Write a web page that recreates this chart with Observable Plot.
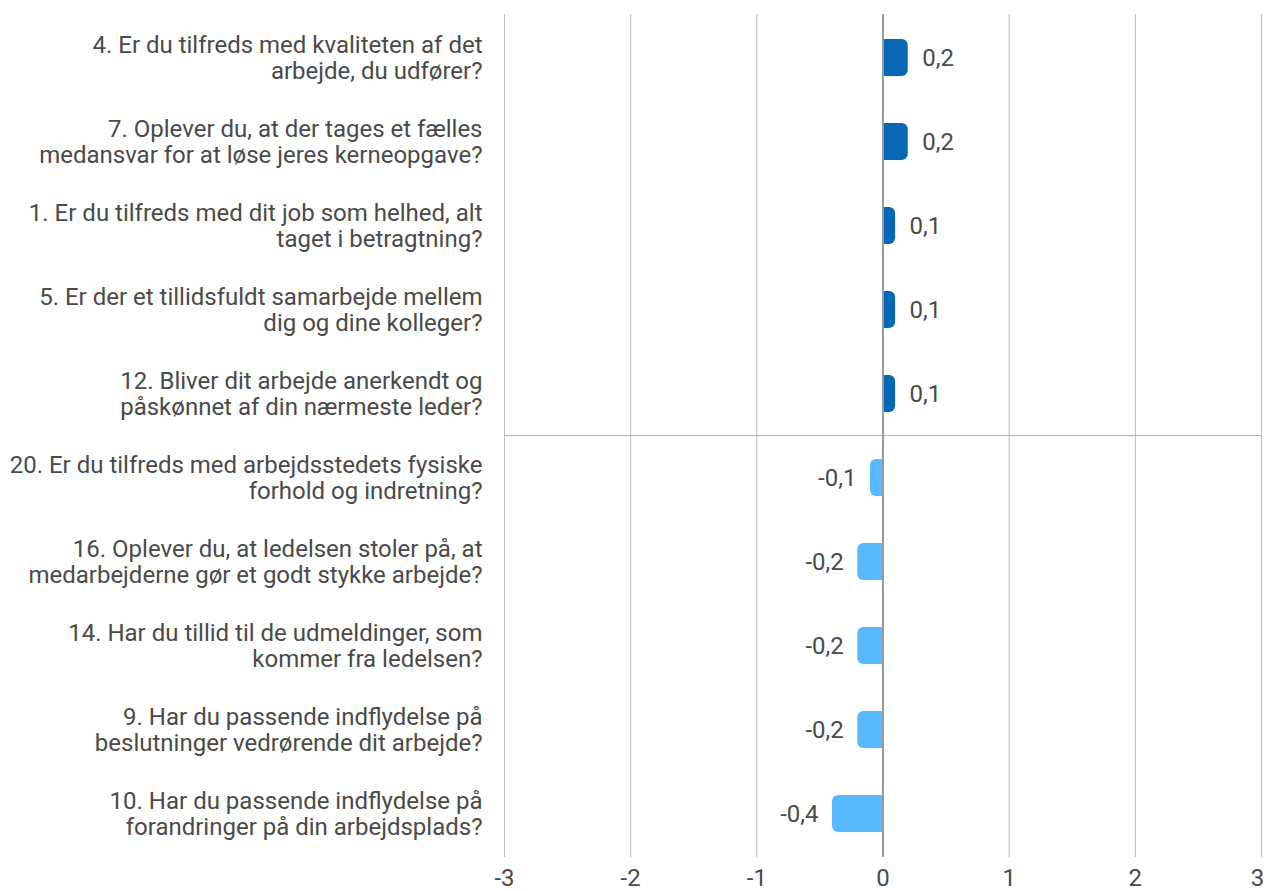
<!DOCTYPE html>
<html>
<head>
<meta charset="utf-8">
<script src="https://cdn.jsdelivr.net/npm/d3@7"></script>
<script src="https://cdn.jsdelivr.net/npm/@observablehq/plot@0.6"></script>
<style>
  body { margin: 0; background: #fff; font-family: Roboto, sans-serif; }
</style>
</head>
<body>
<div id="chart"></div>
<script>
const questions = [
  "4. Er du tilfreds med kvaliteten af det\narbejde, du udfører?",
  "7. Oplever du, at der tages et fælles\nmedansvar for at løse jeres kerneopgave?",
  "1. Er du tilfreds med dit job som helhed, alt\ntaget i betragtning?",
  "5. Er der et tillidsfuldt samarbejde mellem\ndig og dine kolleger?",
  "12. Bliver dit arbejde anerkendt og\npåskønnet af din nærmeste leder?",
  "20. Er du tilfreds med arbejdsstedets fysiske\nforhold og indretning?",
  "16. Oplever du, at ledelsen stoler på, at\nmedarbejderne gør et godt stykke arbejde?",
  "14. Har du tillid til de udmeldinger, som\nkommer fra ledelsen?",
  "9. Har du passende indflydelse på\nbeslutninger vedrørende dit arbejde?",
  "10. Har du passende indflydelse på\nforandringer på din arbejdsplads?"
];
const values = [0.2, 0.2, 0.1, 0.1, 0.1, -0.1, -0.2, -0.2, -0.2, -0.4];
const valueLabels = ["0,2", "0,2", "0,1", "0,1", "0,1", "-0,1", "-0,2", "-0,2", "-0,2", "-0,4"];
const xTicks = [-3, -2, -1, 0, 1, 2, 3];
const posColor = "#0868b8";
const negColor = "#57b9ff";
const textColor = "#4a4a4a";

const data = questions.map((q, i) => ({q, v: values[i], label: valueLabels[i]}));
const pos = data.filter(d => d.v >= 0);
const neg = data.filter(d => d.v < 0);
const colorOf = d => d.v >= 0 ? posColor : negColor;
const innerTicks = xTicks.slice(0, -1);
const lastTick = xTicks.slice(-1);

function separator(index, scales, vals, dimensions) {
  const y = scales.y;
  const step = y.step();
  const yy = y(questions[5]) - (step - y.bandwidth()) / 2;
  const line = document.createElementNS("http://www.w3.org/2000/svg", "line");
  line.setAttribute("x1", dimensions.marginLeft);
  line.setAttribute("x2", dimensions.width - dimensions.marginRight);
  line.setAttribute("y1", yy);
  line.setAttribute("y2", yy);
  line.setAttribute("stroke", "#b0b0b0");
  line.setAttribute("stroke-width", 1);
  return line;
}

const axisOpts = {tickSize: 0, tickPadding: 11, fontSize: 24, tickFormat: d => String(d), label: null, fill: textColor};

const chart = Plot.plot({
  width: 1265,
  height: 891,
  marginLeft: 504,
  marginRight: 4,
  marginTop: 14,
  marginBottom: 34,
  style: {fontFamily: "Roboto, sans-serif", fontSize: "24px", color: textColor, background: "#fff"},
  x: {domain: [-3, 3]},
  y: {domain: questions, paddingInner: 0.56, paddingOuter: 0.28},
  marks: [
    Plot.gridX({ticks: xTicks, stroke: "#bdbdbd", strokeOpacity: 1}),
    separator,
    Plot.barX(data, {y: "q", x1: 0, x2: "v", fill: colorOf, rx: 6}),
    Plot.barX(data, {y: "q", x1: 0, x2: d => d.v / 2, fill: colorOf}),
    Plot.ruleX([0], {stroke: "#9a9a9a", strokeWidth: 2}),
    Plot.text(pos, {y: "q", x: "v", text: "label", dx: 14, textAnchor: "start", fill: textColor, fontSize: 24}),
    Plot.text(neg, {y: "q", x: "v", text: "label", dx: -14, textAnchor: "end", fill: textColor, fontSize: 24}),
    Plot.axisX({...axisOpts, ticks: innerTicks}),
    Plot.axisX({...axisOpts, ticks: lastTick, dx: -4}),
    Plot.axisY({tickSize: 0, tickPadding: 22, fontSize: 24, lineHeight: 1.083, tickFormat: d => d, label: null, fill: textColor})
  ]
});
document.getElementById("chart").appendChild(chart);
</script>
</body>
</html>
